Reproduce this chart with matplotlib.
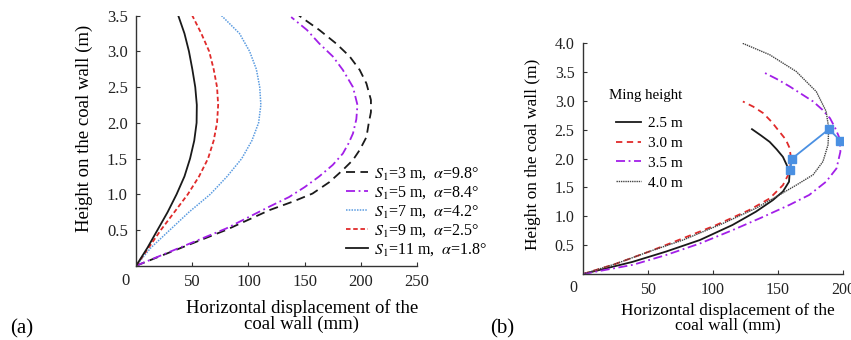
import matplotlib
matplotlib.use("Agg")
import matplotlib.pyplot as plt

plt.rcParams["font.family"] = ["Liberation Serif", "DejaVu Serif"]
plt.rcParams["mathtext.fontset"] = "stix"

# ---- panel (a): distance S1 (x mm, y m) ----
a_s3_x = [0, 40, 80, 119, 140, 157, 172, 184, 193, 199, 205, 207, 209, 209, 205, 199, 190, 178, 163, 145]
a_s3_y = [0, 0.25, 0.5, 0.78, 0.9, 1.01, 1.17, 1.34, 1.48, 1.62, 1.8, 1.99, 2.15, 2.32, 2.55, 2.74, 2.93, 3.11, 3.3, 3.5]
a_s5_x = [0, 40, 80, 119, 136, 150, 163, 175, 184, 189, 193, 196, 197, 193, 184, 175, 163, 152, 138]
a_s5_y = [0, 0.26, 0.52, 0.83, 0.96, 1.1, 1.25, 1.41, 1.57, 1.71, 1.85, 2.05, 2.25, 2.5, 2.74, 2.93, 3.11, 3.3, 3.48]
a_heights = [0, 0.25, 0.5, 0.75, 1.0, 1.25, 1.5, 1.75, 2.0, 2.25, 2.5, 2.75, 3.0, 3.25, 3.5]
a_s7_x = [0, 13, 30, 47, 66, 81, 94, 103, 109, 111, 110, 107, 101, 92, 76]
a_s9_x = [0, 11, 22, 34, 46, 56, 64, 69, 72, 73, 72, 69, 65, 58, 50]
a_s11_x = [0, 10, 19, 28, 36, 43, 48, 51.7, 53.8, 54, 52.6, 50, 47, 43, 37.5]
a_labels = [r"$S_1$=3 m,  $\alpha$=9.8°", r"$S_1$=5 m,  $\alpha$=8.4°",
            r"$S_1$=7 m,  $\alpha$=4.2°", r"$S_1$=9 m,  $\alpha$=2.5°",
            r"$S_1$=11 m,  $\alpha$=1.8°"]

# ---- panel (b): mining height ----
b_h25_x = [0, 38, 64, 90, 115, 133, 146, 153.8, 158.5, 159, 156.5, 153.8, 149, 143.6, 137, 130]
b_h25_y = [0, 0.21, 0.39, 0.59, 0.85, 1.08, 1.28, 1.43, 1.6, 1.77, 1.9, 2.03, 2.16, 2.29, 2.4, 2.51]
b_h30_x = [0, 25.6, 51, 77, 102.6, 128, 143.6, 153.8, 159, 160, 159, 156, 151, 145, 138.5, 131, 123]
b_h30_y = [0, 0.18, 0.39, 0.62, 0.85, 1.11, 1.31, 1.54, 1.77, 2.0, 2.18, 2.33, 2.47, 2.64, 2.79, 2.9, 2.99]
b_h35_x = [0, 38.5, 64, 90, 115, 138.5, 159, 174, 187, 195, 198, 197.4, 194, 190, 184, 177, 168, 159, 149, 138.5]
b_h35_y = [0, 0.16, 0.33, 0.53, 0.76, 0.99, 1.2, 1.37, 1.6, 1.83, 2.12, 2.35, 2.53, 2.7, 2.85, 2.99, 3.12, 3.25, 3.38, 3.5]
b_h40_x = [0, 25.6, 51, 77, 108, 133, 151, 164, 177, 184.6, 188.5, 189, 187, 179.5, 164, 143.6, 122.6]
b_h40_y = [0, 0.18, 0.39, 0.59, 0.88, 1.14, 1.37, 1.54, 1.72, 1.95, 2.24, 2.53, 2.82, 3.16, 3.51, 3.8, 4.0]
b_peak_x = [159.5, 160.8, 189.2, 198]
b_peak_y = [1.81, 2.0, 2.51, 2.31]
b_labels = ["2.5 m", "3.0 m", "3.5 m", "4.0 m"]

BLACK = "#1a1a1a"
PURPLE = "#a21fe8"
BLUE_DOT = "#5a9be0"
RED = "#e02a2a"
MARK = "#4a90e2"

fig = plt.figure(figsize=(8.51, 3.4), dpi=100)
ax1 = fig.add_axes([0.160, 0.2185, 0.330, 0.7355])
ax2 = fig.add_axes([0.685, 0.194, 0.3056, 0.679])


def style_axes(ax, xmax, ymax, yticks, fs, zero_dy):
    for side in ("top", "right"):
        ax.spines[side].set_visible(False)
    for side in ("left", "bottom"):
        ax.spines[side].set_color("#333333")
        ax.spines[side].set_linewidth(1.0)
    ax.set_xlim(0, xmax)
    ax.set_ylim(0, ymax)
    ax.set_xticks(list(range(50, xmax + 1, 50)))
    ax.set_yticks(yticks)
    ax.set_yticklabels([f"{v:.1f}" for v in yticks])
    ax.tick_params(direction="in", length=3, width=0.8, labelsize=fs, pad=6,
                   color="#333333", labelcolor="#222222")
    # shared origin label
    ax.text(-0.037, zero_dy, "0", transform=ax.transAxes, ha="center", va="top",
            fontsize=fs, color="#222222")


# (a)
ax1.plot(a_s3_x, a_s3_y, color=BLACK, lw=1.3, ls=(0, (5, 3)), label=a_labels[0])
ax1.plot(a_s5_x, a_s5_y, color=PURPLE, lw=1.3, ls=(0, (5, 2, 1, 2)), label=a_labels[1])
ax1.plot(a_s7_x, a_heights, color=BLUE_DOT, lw=1.1, ls=(0, (1, 0.8)), label=a_labels[2])
ax1.plot(a_s9_x, a_heights, color=RED, lw=1.3, ls=(0, (2.5, 1.5)), label=a_labels[3])
ax1.plot(a_s11_x, a_heights, color=BLACK, lw=1.3, label=a_labels[4])
style_axes(ax1, 250, 3.5, [0.5, 1.0, 1.5, 2.0, 2.5, 3.0, 3.5], 12, -0.028)
ax1.set_xlabel("Horizontal displacement of the\ncoal wall (mm)", fontsize=13.5,
               linespacing=0.85)
ax1.xaxis.set_label_coords(0.59, -0.135)
ax1.set_ylabel("Height on the coal wall (m)", fontsize=13.5)
ax1.yaxis.set_label_coords(-0.155, 0.55)
ax1.legend(loc="upper left", bbox_to_anchor=(0.397, 0.538), bbox_transform=fig.transFigure,
           frameon=False, fontsize=11.5, handlelength=1.4, handletextpad=0.35,
           labelspacing=0.15, borderpad=0)

# (b)
ax2.plot(b_h25_x, b_h25_y, color=BLACK, lw=1.3, label=b_labels[0])
ax2.plot(b_h30_x, b_h30_y, color=RED, lw=1.3, ls=(0, (3.5, 2.5)), label=b_labels[1])
ax2.plot(b_h35_x, b_h35_y, color=PURPLE, lw=1.3, ls=(0, (5, 2, 1, 2)), label=b_labels[2])
ax2.plot(b_h40_x, b_h40_y, color="#444444", lw=1.0, ls=(0, (1, 0.6)), label=b_labels[3])
ax2.plot(b_peak_x, b_peak_y, color=MARK, lw=1.3, marker="s", ms=6, zorder=5)
style_axes(ax2, 200, 4.0, [0.5, 1.0, 1.5, 2.0, 2.5, 3.0, 3.5, 4.0], 11.5, -0.025)
ax2.set_xlabel("Horizontal displacement of the\ncoal wall (mm)", fontsize=12.4,
               linespacing=0.85)
ax2.xaxis.set_label_coords(0.559, -0.125)
ax2.set_ylabel("Height on the coal wall (m)", fontsize=12.4)
ax2.yaxis.set_label_coords(-0.16, 0.52)
fig.text(0.7155, 0.718, "Ming height", fontsize=10.8, va="center")
ax2.legend(loc="upper left", bbox_to_anchor=(0.715, 0.68), bbox_transform=fig.transFigure,
           frameon=False, fontsize=11, handlelength=1.6, handletextpad=0.5,
           labelspacing=0.4, borderpad=0)

fig.text(0.012, 0.02, "(a)", fontsize=15)
fig.text(0.576, 0.02, "(b)", fontsize=15)

fig.savefig("out.png", dpi=100)
